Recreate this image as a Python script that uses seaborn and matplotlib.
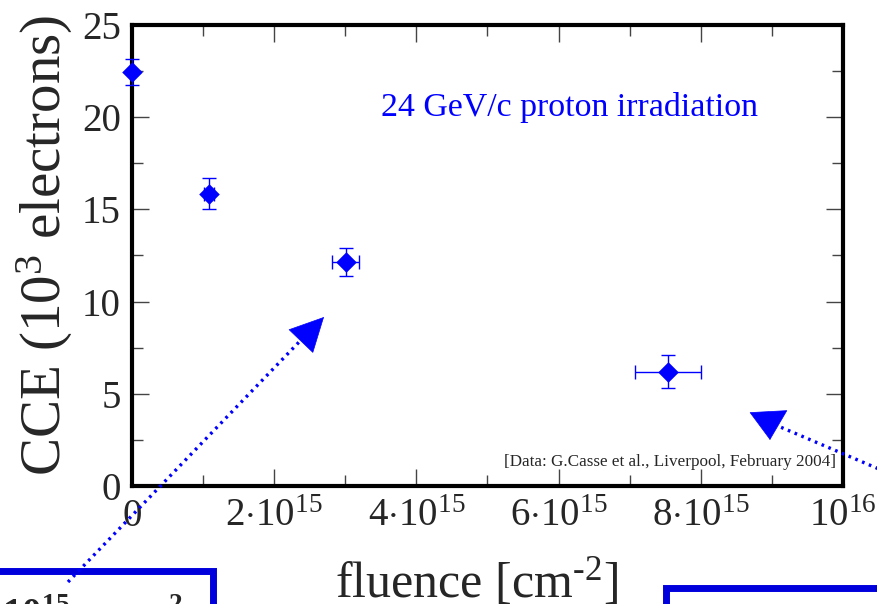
import numpy as np
import pandas as pd
import seaborn as sns
import matplotlib.pyplot as plt
from matplotlib.patches import Rectangle
from matplotlib.lines import Line2D
from matplotlib.transforms import IdentityTransform
from matplotlib.ticker import FixedLocator, MultipleLocator

# CCE vs fluence (24 GeV/c protons)
fluence = [0.0, 1.08e15, 3.01e15, 7.54e15]
fluence_err = [0.0, 0.07e15, 0.19e15, 0.46e15]
cce = [22.45, 15.85, 12.15, 6.2]
cce_err = [0.68, 0.84, 0.74, 0.91]

xticks = [0, 2e15, 4e15, 6e15, 8e15, 1e16]
xticklabels = ['0', r'$2{\cdot}10^{15}$', r'$4{\cdot}10^{15}$', r'$6{\cdot}10^{15}$',
               r'$8{\cdot}10^{15}$', r'$10^{16}$']
yticks = [0, 5, 10, 15, 20, 25]

df = pd.DataFrame({'fluence': fluence, 'cce': cce})

sns.set_theme(style='ticks')
plt.rcParams['font.family'] = ['Liberation Serif', 'DejaVu Serif']
plt.rcParams['mathtext.fontset'] = 'custom'
plt.rcParams['mathtext.rm'] = 'Liberation Serif'
plt.rcParams['mathtext.it'] = 'Liberation Serif:italic'
plt.rcParams['mathtext.bf'] = 'Liberation Serif:bold'

H = 604  # figure height in px, for pixel placement of slide decorations
px = IdentityTransform()

fig = plt.figure(figsize=(8.78, 6.04), dpi=100)
ax = fig.add_axes([0.1503, 0.1954, 0.8097, 0.7632])

ax.errorbar(df['fluence'], df['cce'], xerr=fluence_err, yerr=cce_err, fmt='none',
            ecolor='blue', elinewidth=1, capsize=5, capthick=1, clip_on=False, zorder=3)
sns.scatterplot(data=df, x='fluence', y='cce', marker='D', color='blue', s=110,
                edgecolor='blue', linewidth=0, ax=ax, clip_on=False, zorder=4)

ax.set_xlim(0, 1e16)
ax.set_ylim(0, 25)
ax.xaxis.set_major_locator(FixedLocator(xticks))
ax.set_xticklabels(xticklabels)
ax.xaxis.set_minor_locator(MultipleLocator(1e15))
ax.set_yticks(yticks)
ax.set_yticklabels([str(t) for t in yticks])
ax.yaxis.set_minor_locator(MultipleLocator(2.5))
ax.tick_params(which='both', direction='in', top=True, right=True, color='#444444',
               width=1, labelsize=28)
ax.tick_params(axis='x', pad=9)
ax.tick_params(axis='y', pad=8)
ax.tick_params(which='major', length=12)
ax.tick_params(which='minor', length=8)
for sp in ax.spines.values():
    sp.set_linewidth(3)
    sp.set_color('black')
ax.set_xlabel('')
ax.set_ylabel('')

fig.text(0.051, 0.594, r'CCE (10$^{3}$ electrons)', rotation=90, ha='center', va='center',
         fontsize=41)
fig.text(0.543, 0.036, r'fluence [cm$^{\text{-}2}$]', ha='center', va='center', fontsize=36)

ax.text(0.616, 0.82, '24 GeV/c proton irradiation', transform=ax.transAxes, color='blue',
        fontsize=24.4, ha='center', va='center')
ax.text(0.99, 0.052, '[Data: G.Casse et al., Liverpool, February 2004]', transform=ax.transAxes,
        fontsize=12.3, ha='right', va='center')

# boxes from the slide, cut by the frame
fig.add_artist(Rectangle((-30, -30), 243, H - 571 + 30, transform=px, fill=False,
                         edgecolor='#0000dd', linewidth=5, clip_on=False))
fig.add_artist(Rectangle((666, -30), 260, H - 588 + 30, transform=px, fill=False,
                         edgecolor='#0000dd', linewidth=5, clip_on=False))
fig.text(183, -22, r'$\mathbf{3{\cdot}10^{15}\ p\ cm^{\text{-}2}}$', transform=px, fontsize=28,
         ha='right', va='baseline')

# dotted arrows
dots = dict(color='blue', lw=2.4, linestyle=(0, (0.8, 1.4)), dash_capstyle='butt')
fig.add_artist(Line2D([68, 301], [H - 582, H - 340], transform=px, **dots))
fig.add_artist(Line2D([900, 778], [H - 478, H - 426], transform=px, **dots))
ax.annotate('', xy=(324, H - 317), xytext=(301.5, H - 340.5), xycoords='figure pixels',
            textcoords='figure pixels', annotation_clip=False,
            arrowprops=dict(arrowstyle='-|>,head_length=1.17,head_width=0.59', color='blue',
                            lw=0.5, mutation_scale=20, shrinkA=0, shrinkB=0))
ax.annotate('', xy=(770, H - 440), xytext=(768.5, H - 412), xycoords='figure pixels',
            textcoords='figure pixels', annotation_clip=False,
            arrowprops=dict(arrowstyle='-|>,head_length=1.0,head_width=0.66', color='blue',
                            lw=0.5, mutation_scale=20, shrinkA=0, shrinkB=0))

fig.savefig('out.png', dpi=100)
